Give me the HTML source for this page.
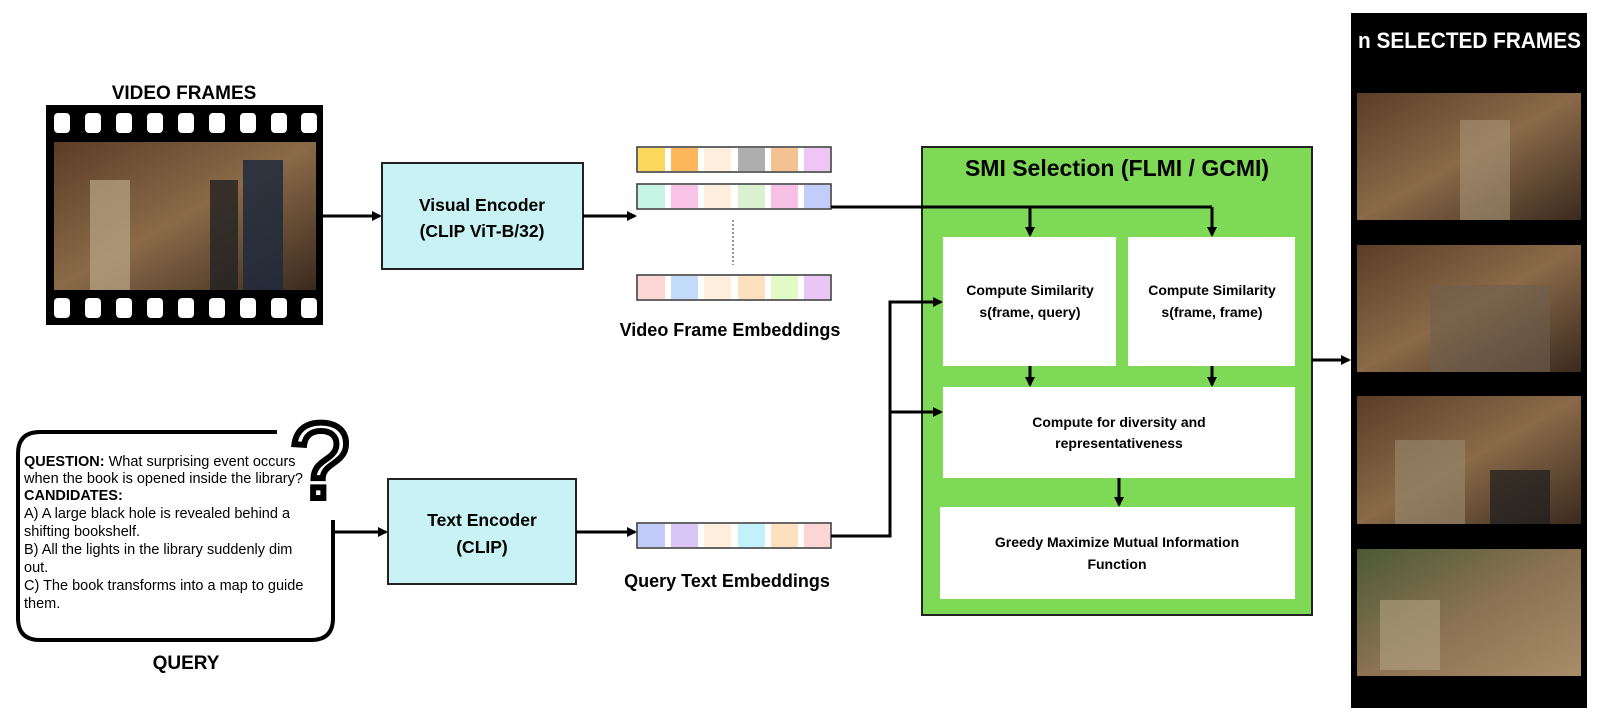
<!DOCTYPE html>
<html><head><meta charset="utf-8"><style>
html,body{margin:0;padding:0;background:#fff;width:1600px;height:723px;overflow:hidden}
text{font-family:"Liberation Sans",sans-serif}
</style></head><body>
<svg width="1600" height="723" viewBox="0 0 1600 723" xmlns="http://www.w3.org/2000/svg">
<defs>
<marker id="ah" markerWidth="10" markerHeight="10" refX="8" refY="5" orient="auto" markerUnits="userSpaceOnUse">
<path d="M0,0 L10,5 L0,10 z" fill="#000"/></marker>
<linearGradient id="lib" x1="0" y1="0" x2="1" y2="1">
<stop offset="0" stop-color="#5a3d26"/><stop offset="0.5" stop-color="#8a6a48"/><stop offset="1" stop-color="#3a2a1e"/></linearGradient>
<linearGradient id="out" x1="0" y1="0" x2="1" y2="1">
<stop offset="0" stop-color="#4b5a33"/><stop offset="0.5" stop-color="#8a7252"/><stop offset="1" stop-color="#a88d68"/></linearGradient>
</defs>

<text x="184" y="99" font-size="19" font-weight="bold" text-anchor="middle">VIDEO FRAMES</text>
<rect x="46" y="105" width="277" height="220" fill="#000"/>
<g fill="#fff">
<rect x="54" y="113" width="16" height="20" rx="4"/><rect x="85" y="113" width="16" height="20" rx="4"/><rect x="116" y="113" width="16" height="20" rx="4"/><rect x="147" y="113" width="16" height="20" rx="4"/><rect x="178" y="113" width="16" height="20" rx="4"/><rect x="209" y="113" width="16" height="20" rx="4"/><rect x="240" y="113" width="16" height="20" rx="4"/><rect x="271" y="113" width="16" height="20" rx="4"/><rect x="301" y="113" width="16" height="20" rx="4"/>
<rect x="54" y="298" width="16" height="20" rx="4"/><rect x="85" y="298" width="16" height="20" rx="4"/><rect x="116" y="298" width="16" height="20" rx="4"/><rect x="147" y="298" width="16" height="20" rx="4"/><rect x="178" y="298" width="16" height="20" rx="4"/><rect x="209" y="298" width="16" height="20" rx="4"/><rect x="240" y="298" width="16" height="20" rx="4"/><rect x="271" y="298" width="16" height="20" rx="4"/><rect x="301" y="298" width="16" height="20" rx="4"/>
</g>
<rect x="54" y="142" width="262" height="148" fill="url(#lib)"/>
<rect x="90" y="180" width="40" height="110" fill="#b9a688" opacity="0.7"/>
<rect x="210" y="180" width="28" height="110" fill="#222" opacity="0.8"/>
<rect x="243" y="160" width="40" height="130" fill="#1e2a3c" opacity="0.85"/>

<line x1="322" y1="216" x2="380" y2="216" stroke="#000" stroke-width="3" marker-end="url(#ah)"/>
<rect x="382" y="163" width="201" height="106" fill="#c9f2f4" stroke="#222" stroke-width="2"/>
<text x="482" y="211" font-size="17.5" font-weight="bold" text-anchor="middle">Visual Encoder</text>
<text x="482" y="237" font-size="17.5" font-weight="bold" text-anchor="middle">(CLIP ViT-B/32)</text>
<line x1="583" y1="216" x2="635" y2="216" stroke="#000" stroke-width="3" marker-end="url(#ah)"/>

<g stroke="#333" stroke-width="1.5">
<rect x="637" y="147" width="194" height="25" fill="#fff"/>
<rect x="637" y="184" width="194" height="25" fill="#fff"/>
<rect x="637" y="275" width="194" height="25" fill="#fff"/>
<rect x="637" y="523" width="194" height="25" fill="#fff"/>
</g>
<g>
<rect x="638" y="148" width="27" height="23" fill="#fcd95a"/><rect x="671" y="148" width="27" height="23" fill="#fbb75a"/><rect x="704" y="148" width="27" height="23" fill="#fdeedd"/><rect x="738" y="148" width="27" height="23" fill="#aeaeae"/><rect x="771" y="148" width="27" height="23" fill="#f4c190"/><rect x="804" y="148" width="26" height="23" fill="#efc5f6"/>
<rect x="638" y="185" width="27" height="23" fill="#c6f5e6"/><rect x="671" y="185" width="27" height="23" fill="#f8c3e5"/><rect x="704" y="185" width="27" height="23" fill="#fdeedd"/><rect x="738" y="185" width="27" height="23" fill="#d9f1cf"/><rect x="771" y="185" width="27" height="23" fill="#f9c0e6"/><rect x="804" y="185" width="26" height="23" fill="#c2cdfa"/>
<rect x="638" y="276" width="27" height="23" fill="#fdd5d5"/><rect x="671" y="276" width="27" height="23" fill="#c3dbfa"/><rect x="704" y="276" width="27" height="23" fill="#fdeedd"/><rect x="738" y="276" width="27" height="23" fill="#fde0bd"/><rect x="771" y="276" width="27" height="23" fill="#e2fbc6"/><rect x="804" y="276" width="26" height="23" fill="#eac6f7"/>
<rect x="638" y="524" width="27" height="23" fill="#c2ccfa"/><rect x="671" y="524" width="27" height="23" fill="#dac6f6"/><rect x="704" y="524" width="27" height="23" fill="#fdeedd"/><rect x="738" y="524" width="27" height="23" fill="#c3f1f9"/><rect x="771" y="524" width="27" height="23" fill="#fde0bd"/><rect x="804" y="524" width="26" height="23" fill="#fdd5d5"/>
</g>
<line x1="733" y1="220" x2="733" y2="265" stroke="#333" stroke-width="1" stroke-dasharray="2,2"/>
<text x="730" y="336" font-size="18" font-weight="bold" text-anchor="middle">Video Frame Embeddings</text>
<text x="727" y="587" font-size="18" font-weight="bold" text-anchor="middle">Query Text Embeddings</text>

<path d="M277,432 L40,432 Q18,432 18,454 L18,618 Q18,640 40,640 L311,640 Q333,640 333,618 L333,520" fill="none" stroke="#000" stroke-width="4"/>
<text x="290" y="498" font-size="108" fill="#fff" stroke="#000" stroke-width="6" font-family="Liberation Sans,sans-serif">?</text>
<g font-size="14.5" font-family="Liberation Sans,sans-serif">
<text x="24" y="466"><tspan font-weight="bold">QUESTION:</tspan> What surprising event occurs</text>
<text x="24" y="483">when the book is opened inside the library?</text>
<text x="24" y="500" font-weight="bold">CANDIDATES:</text>
<text x="24" y="518">A) A large black hole is revealed behind a</text>
<text x="24" y="536">shifting bookshelf.</text>
<text x="24" y="554">B) All the lights in the library suddenly dim</text>
<text x="24" y="572">out.</text>
<text x="24" y="590">C) The book transforms into a map to guide</text>
<text x="24" y="608">them.</text>
</g>
<text x="186" y="669" font-size="19" font-weight="bold" text-anchor="middle">QUERY</text>
<line x1="335" y1="532" x2="386" y2="532" stroke="#000" stroke-width="3" marker-end="url(#ah)"/>
<rect x="388" y="479" width="188" height="105" fill="#c9f2f4" stroke="#222" stroke-width="2"/>
<text x="482" y="526" font-size="17.5" font-weight="bold" text-anchor="middle">Text Encoder</text>
<text x="482" y="553" font-size="17.5" font-weight="bold" text-anchor="middle">(CLIP)</text>
<line x1="576" y1="532" x2="635" y2="532" stroke="#000" stroke-width="3" marker-end="url(#ah)"/>

<rect x="922" y="147" width="390" height="468" fill="#7ed957" stroke="#222" stroke-width="2"/>
<text x="1117" y="176" font-size="23" font-weight="bold" text-anchor="middle">SMI Selection (FLMI / GCMI)</text>
<rect x="943" y="237" width="173" height="129" fill="#fff"/>
<rect x="1128" y="237" width="167" height="129" fill="#fff"/>
<rect x="943" y="387" width="352" height="91" fill="#fff"/>
<rect x="940" y="507" width="355" height="92" fill="#fff"/>
<g font-size="14" font-weight="bold" text-anchor="middle">
<text x="1030" y="295">Compute Similarity</text>
<text x="1030" y="317">s(frame, query)</text>
<text x="1212" y="295">Compute Similarity</text>
<text x="1212" y="317">s(frame, frame)</text>
<text x="1119" y="427">Compute for diversity and</text>
<text x="1119" y="448">representativeness</text>
<text x="1117" y="547">Greedy Maximize Mutual Information</text>
<text x="1117" y="569">Function</text>
</g>

<g stroke="#000" stroke-width="3" fill="none">
<polyline points="831,207 1212,207"/>
<line x1="1030" y1="207" x2="1030" y2="235" marker-end="url(#ah)"/>
<line x1="1212" y1="207" x2="1212" y2="235" marker-end="url(#ah)"/>
<polyline points="831,536 890,536 890,302 941,302" marker-end="url(#ah)"/>
<line x1="890" y1="412" x2="941" y2="412" marker-end="url(#ah)"/>
<line x1="1030" y1="366" x2="1030" y2="385" marker-end="url(#ah)"/>
<line x1="1212" y1="366" x2="1212" y2="385" marker-end="url(#ah)"/>
<line x1="1119" y1="478" x2="1119" y2="505" marker-end="url(#ah)"/>
<line x1="1312" y1="360" x2="1349" y2="360" marker-end="url(#ah)"/>
</g>

<rect x="1351" y="13" width="236" height="695" fill="#000"/>
<text x="1358" y="48" font-size="22" font-weight="bold" fill="#fff" textLength="223" lengthAdjust="spacingAndGlyphs">n SELECTED FRAMES</text>
<rect x="1357" y="93" width="224" height="127" fill="url(#lib)"/>
<rect x="1357" y="245" width="224" height="127" fill="url(#lib)"/>
<rect x="1357" y="396" width="224" height="128" fill="url(#lib)"/>
<rect x="1357" y="549" width="224" height="127" fill="url(#out)"/>
<rect x="1460" y="120" width="50" height="100" fill="#a89478" opacity="0.6"/>
<rect x="1430" y="285" width="120" height="87" fill="#6e5f4e" opacity="0.6"/>
<rect x="1395" y="440" width="70" height="84" fill="#9a8a70" opacity="0.6"/>
<rect x="1490" y="470" width="60" height="54" fill="#1c1c1c" opacity="0.7"/>
<rect x="1380" y="600" width="60" height="70" fill="#b2a483" opacity="0.6"/>
</svg>
</body></html>
